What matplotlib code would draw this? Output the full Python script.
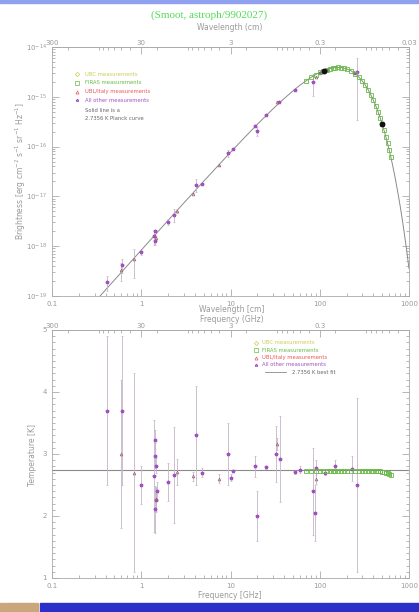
import matplotlib.pyplot as plt
from matplotlib.patches import Rectangle
from matplotlib.ticker import LogLocator, MultipleLocator, NullFormatter, FixedLocator, FixedFormatter

# 2.7356 K Planck curve (GHz, erg cm-2 s-1 sr-1 Hz-1)
curve_freq = [0.3, 0.5, 1, 2, 3, 5, 10, 15, 20, 30, 40, 50, 60, 70, 80, 90, 100, 110,
              120, 130, 140, 150, 160, 175, 185, 200, 225, 250, 275, 300, 325, 350,
              375, 400, 425, 450, 475, 500, 525, 550, 575, 600, 625, 650, 700, 750,
              800, 850, 900, 950, 1000]
curve_bright = [7.54e-20, 2.09e-19, 8.33e-19, 3.30e-18, 7.37e-18, 2.01e-17, 7.69e-17,
                1.65e-16, 2.81e-16, 5.75e-16, 9.28e-16, 1.31e-15, 1.71e-15, 2.09e-15,
                2.46e-15, 2.79e-15, 3.09e-15, 3.33e-15, 3.53e-15, 3.69e-15, 3.80e-15,
                3.86e-15, 3.88e-15, 3.85e-15, 3.78e-15, 3.64e-15, 3.31e-15, 2.91e-15,
                2.48e-15, 2.07e-15, 1.70e-15, 1.37e-15, 1.08e-15, 8.47e-16, 6.54e-16,
                5.01e-16, 3.80e-16, 2.86e-16, 2.13e-16, 1.58e-16, 1.17e-16, 8.54e-17,
                6.23e-17, 4.51e-17, 2.35e-17, 1.20e-17, 6.07e-18, 3.02e-18, 1.49e-18,
                7.31e-19, 3.55e-19]

# FIRAS
firas_freq = [70, 80, 90, 100, 110, 120, 130, 140, 150, 160, 175, 185, 200, 225, 250,
              275, 300, 325, 350, 375, 400, 425, 450, 475, 500, 525, 550, 575, 600, 625]
firas_bright = [2.09e-15, 2.46e-15, 2.79e-15, 3.09e-15, 3.33e-15, 3.53e-15, 3.69e-15,
                3.80e-15, 3.86e-15, 3.88e-15, 3.85e-15, 3.78e-15, 3.64e-15, 3.31e-15,
                2.91e-15, 2.48e-15, 2.07e-15, 1.70e-15, 1.37e-15, 1.08e-15, 8.47e-16,
                6.54e-16, 5.01e-16, 3.80e-16, 2.86e-16, 2.13e-16, 1.58e-16, 1.17e-16,
                8.54e-17, 6.23e-17]
firas_temp = [2.729, 2.727, 2.728, 2.729, 2.728, 2.727, 2.728, 2.729, 2.728, 2.728,
              2.727, 2.729, 2.728, 2.727, 2.728, 2.729, 2.728, 2.727, 2.726, 2.728,
              2.725, 2.724, 2.722, 2.719, 2.715, 2.71, 2.70, 2.69, 2.68, 2.66]
firas_terr = [0.01, 0.006, 0.004, 0.003, 0.002, 0.002, 0.002, 0.002, 0.002, 0.002,
              0.002, 0.002, 0.002, 0.002, 0.002, 0.002, 0.003, 0.003, 0.004, 0.004,
              0.005, 0.006, 0.007, 0.008, 0.01, 0.012, 0.015, 0.018, 0.022, 0.03]

# UBL/Italy
ubl_freq = [0.6, 0.82, 1.47, 2.5, 3.8, 7.5, 33.0, 90.0]
ubl_temp = [3.0, 2.7, 2.27, 2.71, 2.64, 2.60, 3.16, 2.60]
ubl_terr = [1.2, 1.6, 0.19, 0.21, 0.07, 0.07, 0.1, 0.09]
ubl_bright = [3.30e-19, 5.54e-19, 1.49e-18, 5.07e-18, 1.14e-17, 4.21e-17, 7.9e-16, 2.54e-15]
ubl_berr = [1.32e-19, 3.28e-19, 0.12e-18, 0.39e-18, 0.03e-17, 0.1e-17, 0.3e-16, 0.08e-15]

# all other measurements
other_freq = [0.408, 0.61, 1.0, 1.40, 1.41, 1.43, 1.44, 1.45, 1.47, 1.5, 2.0, 2.3, 4.08,
              4.75, 9.4, 10.0, 10.7, 19.0, 20.0, 24.8, 32.5, 36.0, 53.0, 60.0, 83.8,
              88.0, 90.0, 113.6, 150.0, 227.0, 260.0]
other_temp = [3.7, 3.7, 2.5, 2.65, 2.11, 3.23, 2.97, 2.81, 2.26, 2.4, 2.55, 2.66, 3.3,
              2.70, 3.0, 2.62, 2.730, 2.8, 2.0, 2.783, 3.0, 2.92, 2.71, 2.75, 2.4,
              2.05, 2.78, 2.70, 2.8, 2.76, 2.5]
other_terr = [1.2, 1.2, 0.3, 0.9, 0.38, 0.15, 0.2, 0.12, 0.19, 0.15, 0.3, 0.77, 0.8,
              0.07, 0.5, 0.06, 0.014, 0.17, 0.4, 0.025, 0.45, 0.7, 0.03, 0.05, 0.7,
              0.45, 0.12, 0.04, 0.1, 0.2, 1.4]
other_bfreq = [0.408, 0.61, 1.0, 1.40, 1.41, 1.43, 2.0, 2.3, 4.08, 4.75, 9.4, 10.7,
               19.0, 20.0, 24.8, 35.0, 53.0, 83.8, 100.0, 113.6, 120.0, 240.0, 260.0]
other_bright = [1.89e-19, 4.21e-19, 7.61e-19, 1.58e-18, 1.27e-18, 2.01e-18, 3.08e-18,
                4.25e-18, 1.73e-17, 1.79e-17, 7.49e-17, 8.75e-17, 2.60e-16, 2.05e-16,
                4.33e-16, 7.86e-16, 1.40e-15, 1.97e-15, 2.95e-15, 3.33e-15, 3.45e-15,
                3.05e-15, 3.2e-15]
other_berr = [0.61e-19, 1.36e-19, 0.91e-19, 0.54e-18, 0.23e-18, 0.1e-18, 0.36e-18,
              1.23e-18, 0.5e-17, 0.05e-17, 1.25e-17, 0.05e-17, 0.1e-16, 0.41e-16,
              0.05e-16, 0.3e-16, 0.03e-15, 0.95e-15, 0.1e-15, 0.05e-15, 0.1e-15,
              0.2e-15, 2.85e-15]

# big dark dots on the spectrum
dark_freq = [111, 500]
dark_bright = [3.35e-15, 2.86e-16]

T_fit = 2.7356
freq_ticks = [0.1, 1, 10, 100, 1000]
wave_labels_top = ['300', '30', '3', '0.3', '0.03']
wave_labels_bot = ['300', '30', '3', '0.3', '']

gray = '#9a9a9a'
errc = '#c4b4c8'
c_ubc = '#cccc55'
c_firas = '#66bb44'
c_ubl = '#ee5555'
c_other = '#a050c0'

fig = plt.figure(figsize=(4.19, 6.12), dpi=100)
W, H = 419.0, 612.0
ax1 = fig.add_axes([52 / W, 1 - 296 / H, 357 / W, 249 / H])
ax2 = fig.add_axes([52 / W, 1 - 578 / H, 357 / W, 248 / H])


def style(ax, wave_labels):
    ax.set_xscale('log')
    ax.set_xlim(0.1, 1000)
    for s in ax.spines.values():
        s.set_color('#aaaaaa')
        s.set_linewidth(0.6)
    ax.tick_params(which='both', direction='in', colors=gray, labelsize=5,
                   right=True, top=False, width=0.5)
    ax.tick_params(which='major', length=5)
    ax.tick_params(which='minor', length=2.5)
    ax.xaxis.set_major_locator(FixedLocator(freq_ticks))
    ax.xaxis.set_major_formatter(FixedFormatter(['0.1', '1', '10', '100', '1000']))
    ax.xaxis.set_minor_locator(LogLocator(subs=range(2, 10)))
    ax.xaxis.set_minor_formatter(NullFormatter())
    sec = ax.secondary_xaxis('top', functions=(lambda f: 30.0 / f, lambda l: 30.0 / l))
    sec.set_xticks([300, 30, 3, 0.3, 0.03])
    sec.set_xticklabels(wave_labels)
    sec.xaxis.set_minor_locator(LogLocator(subs=range(2, 10)))
    sec.xaxis.set_minor_formatter(NullFormatter())
    sec.tick_params(which='both', direction='in', colors=gray, labelsize=5, width=0.5, pad=1)
    sec.tick_params(which='major', length=5)
    sec.tick_params(which='minor', length=2.5)
    sec.spines['top'].set_color('#aaaaaa')
    sec.spines['top'].set_linewidth(0.6)


style(ax1, wave_labels_top)
style(ax2, wave_labels_bot)

# top panel: brightness spectrum
ax1.set_yscale('log')
ax1.set_ylim(1e-19, 1e-14)
ax1.yaxis.set_minor_locator(LogLocator(subs=range(2, 10)))
ax1.yaxis.set_minor_formatter(NullFormatter())
ax1.plot(curve_freq, curve_bright, color='#8a8a8a', lw=0.7, zorder=2)
ax1.errorbar(other_bfreq, other_bright, yerr=other_berr, fmt='*', ms=2.5, color=c_other,
             ecolor=errc, elinewidth=0.6, capsize=1, capthick=0.5, zorder=3)
ax1.errorbar(ubl_freq, ubl_bright, yerr=ubl_berr, fmt='^', ms=2, mfc='none', mew=0.5,
             color='#a06070', ecolor=errc, elinewidth=0.6, capsize=1, capthick=0.5, zorder=3)
ax1.plot(firas_freq, firas_bright, 's', ms=2.2, mfc='none', mew=0.6, color=c_firas, zorder=4)
ax1.plot(dark_freq, dark_bright, 'o', ms=3.2, color='#111111', zorder=5)

# top legend
leg1 = [('D', c_ubc, 'UBC measurements'), ('s', c_firas, 'FIRAS measurements'),
        ('^', c_ubl, 'UBL/Italy measurements'), ('*', c_other, 'All other measurements')]
for i, (m, c, t) in enumerate(leg1):
    y = 1 - (74 + 8.8 * i) / H
    fig.lines.append(plt.Line2D([77 / W], [y], marker=m, ms=2.2, mfc='none', mew=0.5,
                                color=c, transform=fig.transFigure))
    fig.text(85 / W, y, t, color=c, fontsize=3.8, va='center')
fig.text(85 / W, 1 - 110 / H, 'Solid line is a', color='#666666', fontsize=3.8, va='center')
fig.text(85 / W, 1 - 119 / H, '2.7356 K Planck curve', color='#666666', fontsize=3.8,
         va='center')

# bottom panel: thermodynamic temperature
ax2.set_ylim(1, 5)
ax2.yaxis.set_major_locator(MultipleLocator(1))
ax2.yaxis.set_minor_locator(MultipleLocator(0.1))
ax2.axhline(T_fit, color='#8a8a8a', lw=0.8, zorder=2)
ax2.errorbar(other_freq, other_temp, yerr=other_terr, fmt='*', ms=2.5, color=c_other,
             ecolor=errc, elinewidth=0.6, capsize=1, capthick=0.5, zorder=3)
ax2.errorbar(ubl_freq, ubl_temp, yerr=ubl_terr, fmt='^', ms=2, mfc='none', mew=0.5,
             color='#a06070', ecolor=errc, elinewidth=0.6, capsize=1, capthick=0.5, zorder=3)
ax2.errorbar(firas_freq, firas_temp, yerr=firas_terr, fmt='s', ms=2.2, mfc='none', mew=0.6,
             color=c_firas, ecolor=c_firas, elinewidth=0.5, zorder=4)

leg2 = leg1
for i, (m, c, t) in enumerate(leg2):
    y = 1 - (343 + 7.3 * i) / H
    fig.lines.append(plt.Line2D([256 / W], [y], marker=m, ms=2.2, mfc='none', mew=0.5,
                                color=c, transform=fig.transFigure))
    fig.text(262 / W, y, t, color=c, fontsize=3.8, va='center')
fig.lines.append(plt.Line2D([265 / W, 286 / W], [1 - 372 / H] * 2, color='#8a8a8a', lw=0.6,
                            transform=fig.transFigure))
fig.text(292 / W, 1 - 372 / H, '2.7356 K best fit', color='#666666', fontsize=3.8,
         va='center')

# axis titles
fig.text(0.5, 1 - 15 / H, '(Smoot, astroph/9902027)', color='#55dd55', fontsize=8,
         family='Liberation Serif', ha='center', va='center')
fig.text(230 / W, 1 - 28 / H, 'Wavelength (cm)', color=gray, fontsize=5.5, ha='center',
         va='center')
fig.text(21 / W, 1 - 171 / H,
         r'Brightness [erg cm$^{-2}$ s$^{-1}$ sr$^{-1}$ Hz$^{-1}$]',
         color=gray, fontsize=5.5, rotation=90, ha='center', va='center')
fig.text(232 / W, 1 - 309 / H, 'Wavelength [cm]', color=gray, fontsize=5.5, ha='center',
         va='center')
fig.text(232 / W, 1 - 320 / H, 'Frequency (GHz)', color=gray, fontsize=5.5, ha='center',
         va='center')
fig.text(32 / W, 1 - 455 / H, 'Temperature [K]', color=gray, fontsize=5.5, rotation=90,
         ha='center', va='center')
fig.text(230 / W, 1 - 596 / H, 'Frequency [GHz]', color=gray, fontsize=5.5, ha='center',
         va='center')

# slide decoration
fig.patches.append(Rectangle((0, 1 - 3 / H), 1, 3 / H, color='#8fa0ee',
                             transform=fig.transFigure))
fig.patches.append(Rectangle((40 / W, 0), 1, 9 / H, color='#2a30c8',
                             transform=fig.transFigure))
fig.patches.append(Rectangle((0, 0), 38 / W, 9 / H, color='#c9a77a',
                             transform=fig.transFigure))

fig.savefig('out.png', dpi=100)
